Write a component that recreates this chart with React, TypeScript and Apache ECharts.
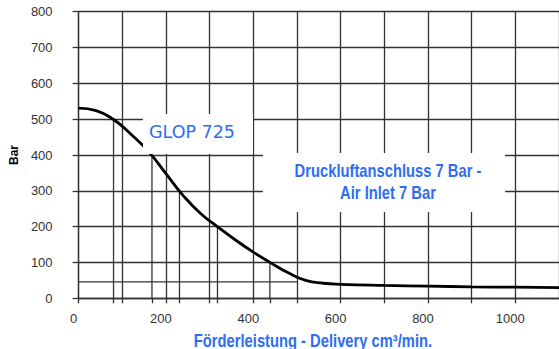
import React, { useEffect, useRef } from "react";
import * as echarts from "echarts";

// Pump curve (Förderleistung cm³/min -> Bar)
const curveX = [0, 40, 80, 120, 160, 200, 240, 280, 320, 360, 400, 440, 480, 520, 560, 600, 700, 800, 900, 1000, 1100];
const curveY = [531, 524, 499, 458, 410, 348, 286, 236, 198, 162, 129, 99, 71, 50, 42, 39, 36, 34, 32, 31, 30];

// Drop lines from the curve to the x axis
const dropX = [80, 168, 231, 318, 438];
const dropY = [500, 400, 300, 200, 100];

// Extra horizontal reference line
const refLineX = [0, 500];
const refLineY = [46, 46];

// Tick labels shown on the x axis
const xTickLabels = [0, 200, 400, 600, 800, 1000];

const xMin = 0;
const xMax = 1100;
const xStep = 100;
const yMin = 0;
const yMax = 800;
const yStep = 100;

const productLabel = "GLOP 725";
const noteLines = ["Druckluftanschluss 7 Bar -", "Air Inlet 7 Bar"];
const xTitle = "Förderleistung - Delivery cm³/min.";
const yTitle = "Bar";

const BLUE = "#2e6ef0";
const GRID = "#333";
const GW = 1.3;

export default function App() {
  const ref = useRef<HTMLDivElement>(null);
  useEffect(() => {
    if (!ref.current) return;
    const chart = echarts.init(ref.current, undefined, { renderer: "svg" });
    const dropSeries = dropX.map((x, i) => ({
      type: "line",
      data: [
        [x, dropY[i]],
        [x, 0],
      ],
      symbol: "none",
      silent: true,
      lineStyle: { color: GRID, width: GW },
      z: 1,
    }));
    chart.setOption({
      animation: false,
      backgroundColor: "#fff",
      grid: { left: 77.7, right: -2.7, top: 11.7, bottom: 50.7 },
      xAxis: [
        {
          type: "value",
          min: xMin,
          max: xMax,
          interval: xStep,
          axisLine: { show: true, lineStyle: { color: GRID, width: GW } },
          axisTick: { show: true, inside: false, length: 5, lineStyle: { color: GRID, width: GW } },
          splitLine: { show: true, lineStyle: { color: GRID, width: GW } },
          axisLabel: {
            showMaxLabel: false,
            margin: 14,
            fontSize: 13,
            fontFamily: "Liberation Sans, Arial, sans-serif",
            color: "#333",
            padding: [0, 10, 0, 0],
            formatter: (v: number) => (xTickLabels.indexOf(v) >= 0 ? String(v) : ""),
          },
        },
        {
          type: "value",
          position: "bottom",
          min: xMin,
          max: xMax,
          axisLine: { show: false },
          axisLabel: { show: false },
          splitLine: { show: false },
          axisTick: {
            show: true,
            length: 5,
            customValues: dropX,
            lineStyle: { color: GRID, width: GW },
          },
        },
      ],
      yAxis: {
        type: "value",
        min: yMin,
        max: yMax,
        interval: yStep,
        name: yTitle,
        nameLocation: "middle",
        nameRotate: 90,
        nameGap: 54,
        nameTextStyle: {
          fontSize: 12,
          fontWeight: "bold",
          color: "#000",
          fontFamily: "Liberation Sans, Arial, sans-serif",
        },
        axisLine: { show: true, lineStyle: { color: GRID, width: GW } },
        axisTick: { show: true, length: 6, lineStyle: { color: GRID, width: GW } },
        splitLine: { show: true, lineStyle: { color: GRID, width: GW } },
        axisLabel: {
          margin: 26,
          fontSize: 13,
          fontFamily: "Liberation Sans, Arial, sans-serif",
          color: "#333",
          padding: [4, 0, 0, 0],
        },
      },
      series: [
        {
          type: "line",
          data: refLineX.map((x, i) => [x, refLineY[i]]),
          symbol: "none",
          silent: true,
          lineStyle: { color: GRID, width: GW },
          z: 1,
        },
        ...dropSeries,
        {
          type: "line",
          data: curveX.map((x, i) => [x, curveY[i]]),
          symbol: "none",
          smooth: 0.5,
          lineStyle: { color: "#000", width: 2.8 },
          z: 5,
        },
      ],
      graphic: [
        {
          type: "rect",
          z: 100,
          shape: { x: 143, y: 114, width: 110, height: 40 },
          style: { fill: "#fff" },
        },
        {
          type: "rect",
          z: 100,
          shape: { x: 263, y: 153, width: 242, height: 59 },
          style: { fill: "#fff" },
        },
        {
          type: "text",
          z: 101,
          x: 149,
          y: 132,
          style: {
            text: productLabel,
            fontSize: 17.5,
            fontFamily: "DejaVu Sans, Verdana, sans-serif",
            fill: BLUE,
            align: "left",
            textAlign: "left",
            verticalAlign: "middle",
            textVerticalAlign: "middle",
          },
        },
        ...noteLines.map((t, i) => ({
          type: "text",
          z: 101,
          x: 388,
          y: 170 + i * 22,
          scaleX: 0.82,
          style: {
            text: t,
            fontSize: 18,
            fontWeight: "bold",
            fontFamily: "Liberation Sans, Arial, sans-serif",
            fill: BLUE,
            align: "center",
            textAlign: "center",
            verticalAlign: "middle",
            textVerticalAlign: "middle",
          },
        })),
        {
          type: "text",
          z: 101,
          x: 313,
          y: 340,
          scaleX: 0.82,
          style: {
            text: xTitle,
            fontSize: 18,
            fontWeight: "bold",
            fontFamily: "Liberation Sans, Arial, sans-serif",
            fill: BLUE,
            align: "center",
            textAlign: "center",
            verticalAlign: "middle",
            textVerticalAlign: "middle",
          },
        },
      ],
    });
    return () => chart.dispose();
  }, []);
  return (
    <div
      ref={ref}
      style={{ position: "absolute", left: 0, top: 0, width: 559, height: 349 }}
    />
  );
}
